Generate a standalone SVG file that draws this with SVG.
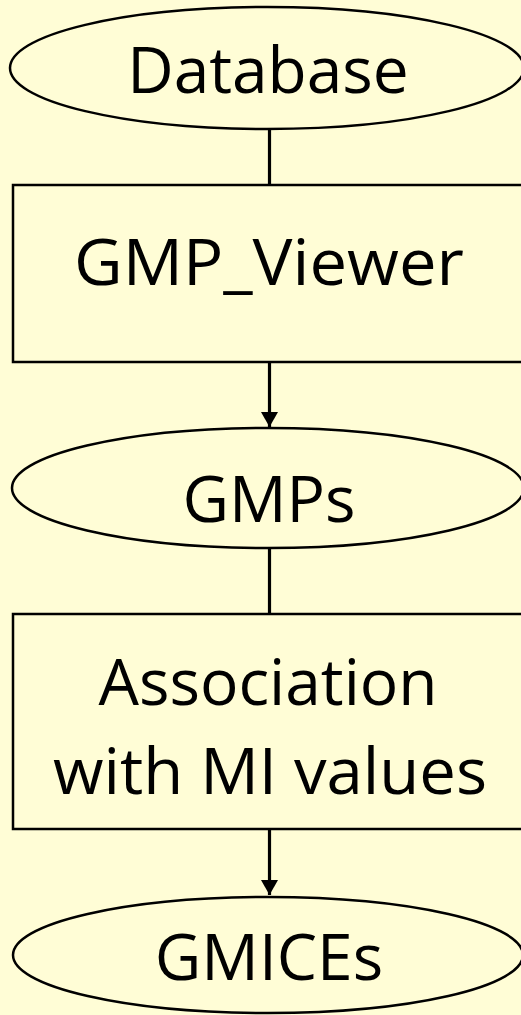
<svg xmlns="http://www.w3.org/2000/svg" width="521" height="1015" viewBox="0 0 521 1015">
<style>
.n{fill:#FFFDD6;stroke:#000;stroke-width:2.5}
.t{font-family:"Open Sans","Liberation Sans",sans-serif;font-size:64px;fill:#000;text-anchor:middle}
.c{stroke:#000;stroke-width:3.2;fill:none}
</style>
<defs>
<marker id="ah" markerWidth="16" markerHeight="17" refX="15" refY="8.5" orient="auto" markerUnits="userSpaceOnUse">
<path d="M0,0 L15,8.5 L0,17 Z" fill="#000"/>
</marker>
</defs>
<rect width="521" height="1015" fill="#FFFDD6"/>
<g id="connectors">
<line class="c" x1="269.5" y1="129" x2="269.5" y2="185"/>
<line class="c" x1="269.5" y1="363" x2="269.5" y2="427" marker-end="url(#ah)"/>
<line class="c" x1="269.5" y1="548" x2="269.5" y2="614"/>
<line class="c" x1="269.5" y1="830" x2="269.5" y2="895" marker-end="url(#ah)"/>
</g>
<g id="database">
<ellipse class="n" cx="267" cy="68" rx="257" ry="61"/>
<text class="t" x="268" y="93">Database</text>
</g>
<g id="gmp_viewer">
<rect class="n" x="13" y="185" width="512" height="177"/>
<text class="t" x="269" y="285" textLength="390" lengthAdjust="spacingAndGlyphs">GMP_Viewer</text>
</g>
<g id="gmps">
<ellipse class="n" cx="268" cy="488" rx="256" ry="60"/>
<text class="t" x="269" y="522">GMPs</text>
</g>
<g id="association">
<rect class="n" x="13" y="614" width="512" height="215"/>
<text class="t" x="268" y="705">Association</text>
<text class="t" x="270" y="794" textLength="434" lengthAdjust="spacingAndGlyphs">with MI values</text>
</g>
<g id="gmices">
<ellipse class="n" cx="268" cy="955" rx="255" ry="58"/>
<text class="t" x="269" y="980">GMICEs</text>
</g>
</svg>
